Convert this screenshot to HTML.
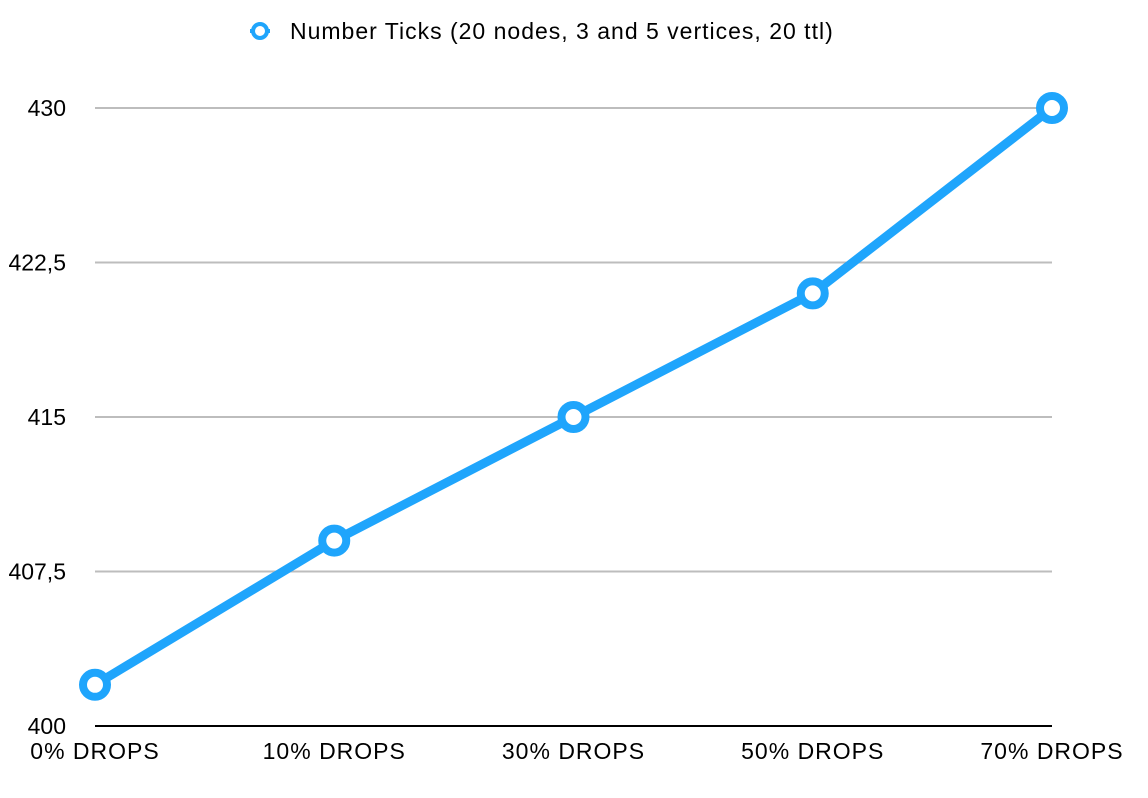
<!DOCTYPE html>
<html><head><meta charset="utf-8"><style>
html,body{margin:0;padding:0;background:#fff;}
svg{display:block;font-family:"Liberation Sans",Arial,sans-serif;}
</style></head><body>
<svg id="chart" width="1148" height="798">
<g id="grid"></g><g id="axes"></g><g id="series"></g>
<g>
<line x1="250" y1="31" x2="270" y2="31" stroke="#1fa5fc" stroke-width="4"/>
<circle cx="260" cy="31" r="7" fill="#fff" stroke="#1fa5fc" stroke-width="4"/>
<text x="290" y="39" font-size="23" letter-spacing="1" fill="#000">Number Ticks (20 nodes, 3 and 5 vertices, 20 ttl)</text>
</g>
</svg>
<script>
const categories=["0% DROPS","10% DROPS","30% DROPS","50% DROPS","70% DROPS"];
const values=[402,409,415,421,430];
const yTicks=[400,407.5,415,422.5,430];
const yTickLabels=["400","407,5","415","422,5","430"];
const NS="http://www.w3.org/2000/svg";
const x0=95,x1=1052,yTop=108,yBot=726,yMin=400,yMax=430;
const xs=i=>x0+(x1-x0)*i/(categories.length-1);
const ys=v=>yBot-(v-yMin)/(yMax-yMin)*(yBot-yTop);
function mk(t,a,p){const e=document.createElementNS(NS,t);for(const k in a)e.setAttribute(k,a[k]);p.appendChild(e);return e;}
const grid=document.getElementById('grid'),axes=document.getElementById('axes'),ser=document.getElementById('series');
yTicks.forEach((t,i)=>{
 const y=ys(t);
 if(t!==yMin){const l=mk('line',{x1:x0,x2:x1,y1:y,y2:y,stroke:'#bdbdbd','stroke-width':2},grid);
 
 }
 const tx=mk('text',{x:66,y:y+8,'text-anchor':'end','font-size':23,fill:'#000'},axes);
 tx.textContent=yTickLabels[i];
 
 
});
const ax=mk('line',{x1:x0,x2:x1,y1:yBot,y2:yBot,stroke:'#000','stroke-width':2},axes);


categories.forEach((c,i)=>{
 const tx=mk('text',{x:xs(i),y:759,'text-anchor':'middle','font-size':23,'letter-spacing':1,fill:'#000'},axes);
 tx.textContent=c;
 
 
});
const pl=mk('polyline',{points:values.map((v,i)=>xs(i)+','+ys(v)).join(' '),fill:'none',stroke:'#1fa5fc','stroke-width':9,'stroke-linejoin':'round'},ser);


values.forEach((v,i)=>{
 const c=mk('circle',{cx:xs(i),cy:ys(v),r:12,fill:'#fff',stroke:'#1fa5fc','stroke-width':8},ser);
 
 
});
</script>
</body></html>
